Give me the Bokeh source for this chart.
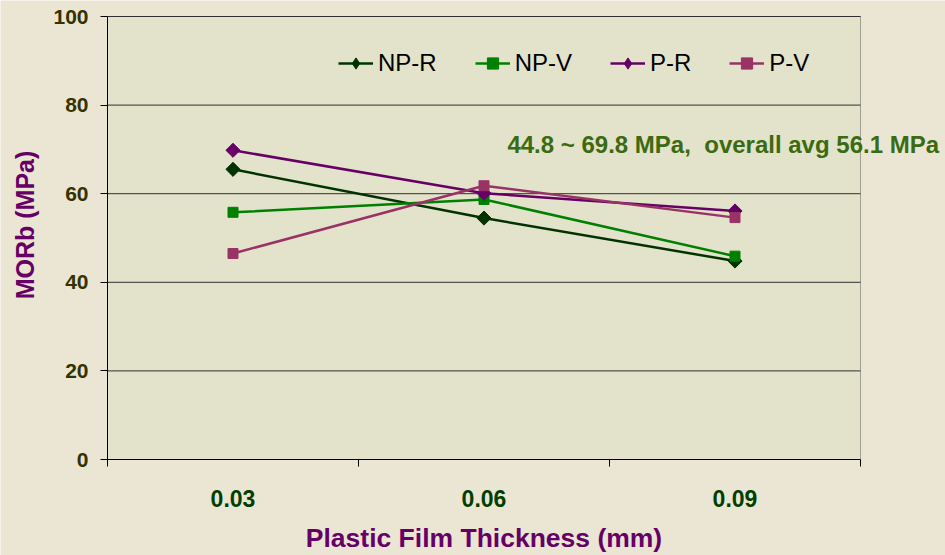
from bokeh.plotting import figure
from bokeh.models import (FixedTicker, NumeralTickFormatter, Label, Legend, LegendItem,
                          Range1d, BoxAnnotation)
from bokeh.embed import file_html
from bokeh.resources import INLINE
import math

thickness = [0.03, 0.06, 0.09]
np_r = [65.5, 54.5, 44.8]
np_v = [55.8, 58.7, 45.9]
p_r = [69.8, 60.1, 56.1]
p_v = [46.5, 61.8, 54.6]
series_names = ["NP-R", "NP-V", "P-R", "P-V"]
annotation = "44.8 ~ 69.8 MPa,\u00a0 overall avg 56.1 MPa"
x_title = "Plastic Film Thickness (mm)"
y_title = "MORb (MPa)"
y_ticks = [0, 20, 40, 60, 80, 100]

FONT = "Liberation Sans"
BORDER = "#ebe6d3"
PLOTBG = "#e3e2cb"

# layout (pixels): canvas 945x555, plot box left 107, right 860, top 16, bottom 459
W, H = 945, 555
BOX_L, BOX_R, BOX_T, BOX_B = 107, 860, 16, 459

step = thickness[1] - thickness[0]
bounds = [thickness[0] - step / 2] + [t + step / 2 for t in thickness]
y_lo, y_hi = y_ticks[0], y_ticks[-1]

# the frame covers the whole canvas; axes are pinned to the plot box edges
sx = (bounds[-1] - bounds[0]) / (BOX_R - BOX_L)
sy = (y_hi - y_lo) / (BOX_B - BOX_T)
x_range = Range1d(bounds[0] - BOX_L * sx, bounds[-1] + (W - BOX_R) * sx)
y_range = Range1d(y_lo - (H - BOX_B) * sy, y_hi + BOX_T * sy)

p = figure(width=W, height=H, output_backend="svg", toolbar_location=None, title=None,
           x_range=x_range, y_range=y_range,
           min_border_left=0, min_border_right=0, min_border_top=0, min_border_bottom=0)
p.border_fill_color = BORDER
p.background_fill_color = BORDER
p.outline_line_color = None

p.add_layout(BoxAnnotation(left=bounds[0], right=bounds[-1], bottom=y_lo, top=y_hi,
                           fill_color=PLOTBG, fill_alpha=1, line_color="#000000",
                           line_width=1, level="underlay"))

# x axis
p.xaxis.fixed_location = y_lo
p.xaxis.bounds = (bounds[0], bounds[-1])
p.xaxis.ticker = FixedTicker(ticks=thickness, minor_ticks=bounds)
p.xaxis.formatter = NumeralTickFormatter(format="0.00")
p.xaxis.major_tick_out = 0
p.xaxis.major_tick_in = 0
p.xaxis.minor_tick_out = 7
p.xaxis.minor_tick_in = 0
p.xaxis.minor_tick_line_color = "#000000"
p.xaxis.axis_line_color = "#000000"
p.xaxis.major_label_text_font = FONT
p.xaxis.major_label_text_font_style = "bold"
p.xaxis.major_label_text_font_size = "23px"
p.xaxis.major_label_text_color = "#003f00"
p.xaxis.major_label_standoff = 23

# y axis
p.yaxis.fixed_location = bounds[0]
p.yaxis.bounds = (y_lo, y_hi)
p.yaxis.ticker = FixedTicker(ticks=y_ticks)
p.yaxis.major_tick_out = 7
p.yaxis.major_tick_in = 0
p.yaxis.minor_tick_out = 0
p.yaxis.minor_tick_in = 0
p.yaxis.axis_line_color = "#000000"
p.yaxis.major_tick_line_color = "#000000"
p.yaxis.major_label_text_font = FONT
p.yaxis.major_label_text_font_style = "bold"
p.yaxis.major_label_text_font_size = "21px"
p.yaxis.major_label_text_color = "#333300"
p.yaxis.major_label_standoff = 12

p.xgrid.grid_line_color = None
p.ygrid.grid_line_color = None
# horizontal gridlines limited to the plot box
p.segment(x0=bounds[0], x1=bounds[-1], y0=y_ticks[1:], y1=y_ticks[1:],
          line_color="#303030", line_width=1)

colors = ["#003300", "#008000", "#660066", "#993366"]
is_diamond = [True, False, True, False]
data = [np_r, np_v, p_r, p_v]

items = []
for name, ys, c, d in zip(series_names, data, colors, is_diamond):
    l = p.line(thickness, ys, line_color=c, line_width=2.5)
    sc = p.scatter(thickness, ys, marker="square", size=10,
                   angle=math.pi / 4 if d else 0, fill_color=c, line_color=c)
    # hidden twin used only for the legend key (keys are drawn unrotated)
    key = p.scatter(thickness, ys, marker="diamond" if d else "square",
                    fill_color=c, line_color=c, visible=False)
    items.append(LegendItem(label=name, renderers=[l, key]))

legend = Legend(items=items, orientation="horizontal", location=(338, H - 77),
                background_fill_alpha=0, border_line_color=None,
                label_text_font=FONT, label_text_font_size="24px", label_text_color="#000000",
                glyph_width=35, glyph_height=28, label_height=26, label_standoff=5,
                spacing=38, padding=0, margin=0)
p.add_layout(legend, "center")

p.add_layout(Label(x=0.0628, y=71.0, text=annotation, text_font=FONT, text_font_style="bold",
                   text_font_size="24px", text_color="#3b6b10", text_baseline="middle"))

# axis titles
p.add_layout(Label(x=(bounds[0] + bounds[-1]) / 2, y=H - 537, y_units="screen",
                   text=x_title, text_align="center", text_baseline="middle",
                   text_font=FONT, text_font_style="bold", text_font_size="26.5px",
                   text_color="#660066"))
p.add_layout(Label(x=24.5, y=H - 224.5, x_units="screen", y_units="screen", angle=math.pi / 2,
                   text=y_title, text_align="center", text_baseline="middle",
                   text_font=FONT, text_font_style="bold", text_font_size="25px",
                   text_color="#660066"))

open("out.html", "w").write(file_html(p, INLINE))
